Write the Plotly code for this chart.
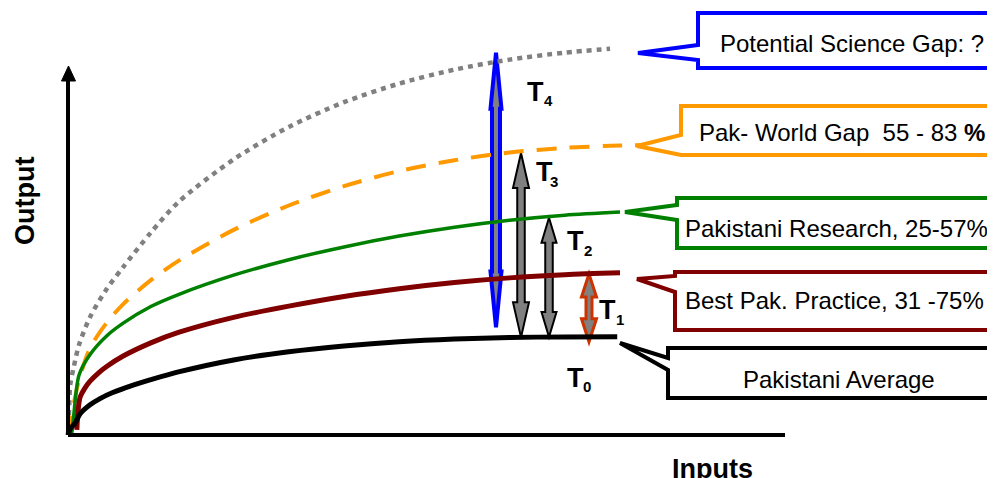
import numpy as np
import plotly.graph_objects as go

# ---------------- data (Inputs vs Output, arbitrary units) ----------------
avg_x = [0, 0.5, 1.3, 2.2, 4, 5.8, 8, 11.8, 15, 20, 30, 40, 50, 60, 70, 80, 90, 99.5]
avg_y = [0, 1.8, 3.1, 5.5, 7.8, 9.4, 10.9, 12.9, 14.3, 16.3, 19.4, 21.5, 23.0, 24.1, 24.8, 25.2, 25.35, 25.4]

best_x = [1.6, 1.8, 2.2, 3, 4, 5.5, 7, 10, 15, 20, 30, 40, 50, 60, 70, 80, 90, 100]
best_y = [1.3, 6.0, 9.8, 12.0, 13.9, 16.0, 17.7, 20.4, 23.8, 26.5, 30.4, 33.3, 35.8, 37.8, 39.4, 40.6, 41.4, 41.9]

res_x = [0.7, 1, 2, 4, 7, 10, 15, 20, 30, 40, 50, 60, 70, 80, 90, 100]
res_y = [0.5, 4.5, 15.5, 20.8, 25.6, 28.9, 33.2, 36.3, 41.3, 45.3, 48.6, 51.4, 53.7, 55.5, 56.8, 57.6]

world_x = [0, 0.4, 1, 2, 4, 7, 10, 15, 20, 30, 40, 50, 60, 70, 80, 90, 100, 104]
world_y = [0, 3.9, 7.8, 14.2, 22.5, 29.0, 33.8, 40.0, 45.0, 53.0, 59.3, 64.3, 68.2, 71.0, 73.0, 74.2, 74.8, 74.9]

sci_x = [0, 0.2, 0.4, 1, 2, 4, 7, 10, 15, 20, 30, 40, 50, 60, 70, 80, 90, 98.2]
sci_y = [0, 6.5, 12.9, 17.3, 23.3, 30.5, 37.7, 43.4, 52.3, 60.2, 71.2, 79.6, 86.0, 90.8, 94.4, 97.0, 98.8, 99.8]

callout_texts = [
    "Potential Science Gap: ?",
    "Pak- World Gap\u00a0\u00a055\u00a0-\u00a083 <b>%</b>",
    "Pakistani Research, 25-57%",
    "Best Pak. Practice, 31 -75%",
    "Pakistani Average",
]
gap_labels = ["4", "3", "2", "1", "0"]

# ---------------- layout geometry ----------------
W, H = 995, 478           # screenshot size
OFF = 8                   # page body margin offsets the figure
X0, Y0 = 68, 435          # screen position of the origin
SX, SY = 5.52, 3.87       # pixels per data unit


def px(p):
    return (p - X0) / SX


def py(p):
    return (Y0 - p) / SY


def P(a, b):
    return f"{px(a):.3f},{py(b):.3f}"


FONT = "Liberation Sans, Arial, sans-serif"
BLACK = "#000000"
MAROON = "#800000"
GREEN = "#008000"
ORANGE = "#FF9900"
GRAY = "#808080"
BLUE = "#0000FF"
RED = "#CC3300"

fig = go.Figure()

# curves
fig.add_trace(go.Scatter(x=sci_x, y=sci_y, mode="lines",
                         line=dict(color=GRAY, width=4.5, dash="5px,5px", shape="spline", smoothing=0.8)))
fig.add_trace(go.Scatter(x=world_x, y=world_y, mode="lines",
                         line=dict(color=ORANGE, width=4, dash="20px,13px", shape="spline", smoothing=0.8)))
fig.add_trace(go.Scatter(x=res_x, y=res_y, mode="lines",
                         line=dict(color=GREEN, width=3.5, shape="spline", smoothing=0.8)))
fig.add_trace(go.Scatter(x=best_x, y=best_y, mode="lines",
                         line=dict(color=MAROON, width=5, shape="spline", smoothing=0.8)))
fig.add_trace(go.Scatter(x=avg_x, y=avg_y, mode="lines",
                         line=dict(color=BLACK, width=5, shape="spline", smoothing=0.8)))

shapes = []

# axes
shapes.append(dict(type="line", x0=px(68), y0=py(435), x1=px(785), y1=py(435),
                   line=dict(color=BLACK, width=4)))
shapes.append(dict(type="line", x0=px(68), y0=py(435), x1=px(68), y1=py(78),
                   line=dict(color=BLACK, width=4)))
shapes.append(dict(type="path", path=f"M{P(68.5,66)} L{P(75.5,81)} L{P(61.5,81)} Z",
                   fillcolor=BLACK, line=dict(color=BLACK, width=1)))


def double_arrow(xc, y_top, y_bot, shaft, head, head_len, color, lw):
    hw = head / 2 / SX
    sw = shaft / 2 / SX
    hl = head_len / SY
    path = (f"M{xc},{y_top} L{xc+hw},{y_top-hl} L{xc+sw},{y_top-hl} "
            f"L{xc+sw},{y_bot+hl} L{xc+hw},{y_bot+hl} L{xc},{y_bot} "
            f"L{xc-hw},{y_bot+hl} L{xc-sw},{y_bot+hl} L{xc-sw},{y_top-hl} "
            f"L{xc-hw},{y_top-hl} Z")
    return dict(type="path", path=path, fillcolor=GRAY, layer="below",
                line=dict(color=color, width=lw))


def on(xs, ys, x):
    return float(np.interp(x, xs, ys))


xa4, xa3, xa2, xa1 = px(496), px(521), px(549), px(589)
shapes.append(double_arrow(xa4, on(sci_x, sci_y, xa4) + 2.4, on(avg_x, avg_y, xa4) + 2.7,
                           8, 11, 56, BLUE, 4))
shapes.append(double_arrow(xa3, on(world_x, world_y, xa3) - 0.4, on(avg_x, avg_y, xa3),
                           7.5, 16, 35, BLACK, 2))
shapes.append(double_arrow(xa2, on(res_x, res_y, xa2) - 0.3, on(avg_x, avg_y, xa2),
                           7.5, 15, 25, BLACK, 2))
shapes.append(double_arrow(xa1, on(best_x, best_y, xa1), on(avg_x, avg_y, xa1) - 1.3,
                           6, 15, 23, RED, 3))


# callouts
def callout(left, top, bottom, tip, a1, a2, color, right=1012):
    path = (f"M{P(left, top)} L{P(right, top)} L{P(right, bottom)} L{P(left, bottom)} "
            f"L{P(left, a2)} L{P(tip[0], tip[1])} L{P(left, a1)} Z")
    return dict(type="path", path=path, fillcolor="white",
                line=dict(color=color, width=4))


shapes.append(callout(698, 13, 68, (638, 53), 45, 60, BLUE))
shapes.append(callout(681, 106, 155, (637, 146), 135, 155, ORANGE))
shapes.append(callout(677, 198, 248, (625, 212), 205, 220, GREEN))
shapes.append(callout(675, 272, 330, (637, 279), 276, 292, MAROON))
shapes.append(callout(668, 348, 398, (620, 343), 358, 370, BLACK))

annotations = []
text_pos = [(718, 43, "left"), (697, 132, "left"), (683, 228, "left"),
            (683, 300, "left"), (839, 379, "center")]
for t, (tx, ty, anc) in zip(callout_texts, text_pos):
    annotations.append(dict(x=px(tx), y=py(ty), text=t, showarrow=False,
                            xanchor=anc, yanchor="middle",
                            font=dict(family=FONT, size=24, color=BLACK)))

# T labels
t_pos = [((535.5, 92), (548, 100.5)), ((544, 171.5), (554, 181.5)),
         ((575, 240.5), (588, 250.5)), ((607, 310), (620, 319)),
         ((575, 378), (587, 386))]
for lab, ((tx, ty), (sx, sy)) in zip(gap_labels, t_pos):
    annotations.append(dict(x=px(tx), y=py(ty), text="<b>T</b>", showarrow=False,
                            xanchor="center", yanchor="middle",
                            font=dict(family=FONT, size=27, color=BLACK)))
    annotations.append(dict(x=px(sx), y=py(sy), text=f"<b>{lab}</b>", showarrow=False,
                            xanchor="center", yanchor="middle",
                            font=dict(family=FONT, size=15, color=BLACK)))

# axis titles
annotations.append(dict(x=px(25), y=py(201), text="<b>Output</b>", showarrow=False,
                        textangle=-90, xanchor="center", yanchor="middle",
                        font=dict(family=FONT, size=27, color=BLACK)))
annotations.append(dict(x=px(712), y=py(469), text="<b>Inputs</b>", showarrow=False,
                        xanchor="center", yanchor="middle",
                        font=dict(family=FONT, size=27, color=BLACK)))

fig.update_layout(
    width=W - OFF, height=H - OFF,
    margin=dict(l=0, r=0, t=0, b=0),
    paper_bgcolor="white", plot_bgcolor="white",
    showlegend=False,
    xaxis=dict(range=[px(OFF), px(W)], visible=False, fixedrange=True),
    yaxis=dict(range=[py(H), py(OFF)], visible=False, fixedrange=True),
    shapes=shapes,
    annotations=annotations,
)

fig.write_html("out.html")
